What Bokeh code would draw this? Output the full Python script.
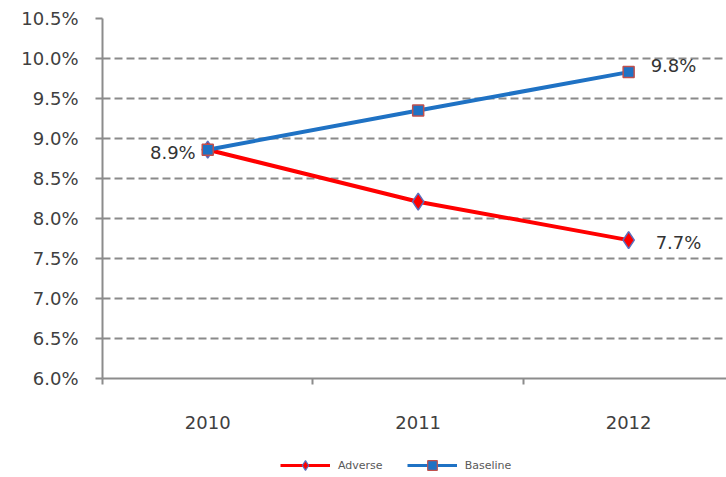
from bokeh.plotting import figure
from bokeh.layouts import column
from bokeh.models import (Range1d, FixedTicker, PrintfTickFormatter, Legend,
                          LegendItem, ColumnDataSource)
from bokeh.core.properties import value
from bokeh.embed import file_html
from bokeh.resources import INLINE

# Scenario paths (percent)
years = ["2010", "2011", "2012"]
adverse = [8.86, 8.21, 7.73]
baseline = [8.86, 9.35, 9.83]
y_ticks = [6.0, 6.5, 7.0, 7.5, 8.0, 8.5, 9.0, 9.5, 10.0, 10.5]

FONT = "DejaVu Sans"
TXT = "#404040"
RED = "#FF0000"
BLUE = "#1F72C4"
AXIS = "#8c8c8c"

xs = [i + 0.5 for i in range(len(years))]

p = figure(width=726, height=440, output_backend="svg", toolbar_location=None,
           x_range=Range1d(0, 2.965), y_range=Range1d(y_ticks[0], y_ticks[-1]),
           min_border_left=102, min_border_right=0, min_border_top=18,
           min_border_bottom=62)
p.outline_line_color = None

# grid
p.xgrid.visible = False
p.ygrid.grid_line_color = "#8a8a8a"
p.ygrid.grid_line_width = 2
p.ygrid.grid_line_dash = "8 4"

# y axis
p.yaxis.ticker = FixedTicker(ticks=y_ticks)
p.yaxis.formatter = PrintfTickFormatter(format="%.1f%%")
p.yaxis.major_label_text_font = FONT
p.yaxis.major_label_text_font_size = "18px"
p.yaxis.major_label_text_color = TXT
p.yaxis.major_label_standoff = 17
p.yaxis.axis_line_color = AXIS
p.yaxis.axis_line_width = 2
p.yaxis.major_tick_line_color = AXIS
p.yaxis.major_tick_line_width = 2
p.yaxis.major_tick_out = 7
p.yaxis.major_tick_in = 0
p.yaxis.minor_tick_line_color = None

# x axis: labels centred in each category, ticks on category boundaries
p.xaxis.ticker = FixedTicker(ticks=xs, minor_ticks=list(range(len(years) + 1)))
p.xaxis.major_label_overrides = {x: y for x, y in zip(xs, years)}
p.xaxis.major_label_text_font = FONT
p.xaxis.major_label_text_font_size = "18px"
p.xaxis.major_label_text_color = TXT
p.xaxis.major_label_standoff = 31
p.xaxis.axis_line_color = AXIS
p.xaxis.axis_line_width = 2
p.xaxis.major_tick_line_color = None
p.xaxis.major_tick_out = 0
p.xaxis.major_tick_in = 0
p.xaxis.minor_tick_line_color = AXIS
p.xaxis.minor_tick_line_width = 2
p.xaxis.minor_tick_out = 6
p.xaxis.minor_tick_in = 0

src = ColumnDataSource(dict(x=xs, adverse=adverse, baseline=baseline))

p.line("x", "adverse", source=src, line_color=RED, line_width=4)
p.line("x", "baseline", source=src, line_color=BLUE, line_width=4)
p.scatter("x", "adverse", source=src, marker="diamond", size=17,
          fill_color=RED, line_color="#5B6FBF", line_width=1.5)
p.scatter("x", "baseline", source=src, marker="square", size=11,
          fill_color=BLUE, line_color="#C0504D", line_width=1.5)

# value labels
lab = ColumnDataSource(dict(
    x=[xs[0], xs[-1], xs[-1]],
    y=[baseline[0], baseline[-1], adverse[-1]],
    text=[f"{v:.1f}%" for v in (baseline[0], baseline[-1], adverse[-1])],
    align=["right", "left", "left"],
    dx=[-12, 22, 27],
    dy=[3, -7, 2],
))
p.text("x", "y", text="text", source=lab, text_align="align",
       text_baseline="middle", x_offset="dx", y_offset="dy",
       text_font=value(FONT), text_font_size="18px", text_color="#333333")

# legend strip under the chart; its renderers share the series data but the
# strip's ranges keep them out of view, so only the legend swatches show
lg = figure(width=726, height=37, output_backend="svg", toolbar_location=None,
            x_range=Range1d(0, 1), y_range=Range1d(0, 1),
            x_axis_location=None, y_axis_location=None, min_border=0)
lg.outline_line_color = None
lg.grid.visible = False

la = lg.line("x", "adverse", source=src, line_color=RED, line_width=3)
ma = lg.scatter("x", "adverse", source=src, marker="diamond", size=11,
                fill_color=RED, line_color="#5B6FBF", line_width=1.2)
lb = lg.line("x", "baseline", source=src, line_color=BLUE, line_width=3)
mb = lg.scatter("x", "baseline", source=src, marker="square", size=10,
                fill_color=BLUE, line_color="#C0504D", line_width=1.2)

legend = Legend(items=[LegendItem(label="Adverse", renderers=[la, ma]),
                       LegendItem(label="Baseline", renderers=[lb, mb])],
                orientation="horizontal", location=(178, 0),
                glyph_width=50, glyph_height=24, label_standoff=8,
                spacing=24, padding=0, margin=0,
                label_text_font=FONT, label_text_font_size="11px",
                label_text_color="#595959", label_height=12,
                border_line_color=None, background_fill_alpha=0)
lg.add_layout(legend)

open("out.html", "w").write(file_html(column(p, lg, spacing=0), INLINE))
